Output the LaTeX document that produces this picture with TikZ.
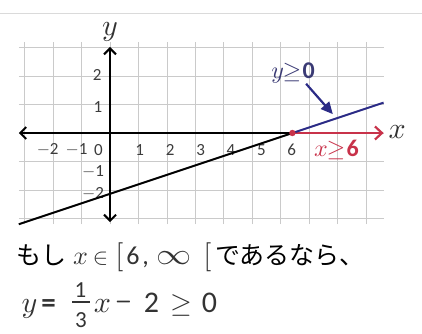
\documentclass[tikz,border=0pt]{standalone}
\usepackage{amsmath}
\usepackage{fontspec}
\usetikzlibrary{arrows.meta}
\DeclareFontShape{OML}{cmm}{m}{it}{<->cmmi10}{}
\DeclareFontShape{OMS}{cmsy}{m}{n}{<->cmsy10}{}
\DeclareFontShape{OT1}{cmr}{m}{n}{<->cmr10}{}
\newfontfamily\jpfont{Noto Sans CJK JP}
\newfontfamily\carl{Carlito}
\newcommand\fsz[1]{\fontsize{#1}{#1}\selectfont}
\definecolor{gridgray}{HTML}{CACACA}
\definecolor{sepgray}{HTML}{DADADA}
\definecolor{ticktext}{HTML}{3C3C3C}
\definecolor{mathgray}{HTML}{333333}
\definecolor{redline}{HTML}{C8324A}
\definecolor{navyline}{HTML}{2B2B86}
\definecolor{navytext}{HTML}{3A3A74}
\tikzset{
  ticklabel/.style={font=\carl\fsz{17}, text=ticktext, inner sep=0},
  axislabel/.style={font=\fsz{30}, text=mathgray, inner sep=0},
  axisline/.style={line width=2pt, black},
  barbtip/.tip={Straight Barb[length=6pt,width=12pt,line width=2pt]},
  condlabel/.style={font=\fsz{24}, inner sep=0},
  piece/.style={anchor=base, inner sep=0, text=mathgray},
  jptext/.style={anchor=base west, inner sep=0, font=\jpfont\fsz{25}, text=black},
}
\begin{document}
\begin{tikzpicture}[x=1pt,y=1pt]
\useasboundingbox (0,0) rectangle (422,333);
\draw[sepgray, line width=0.8pt] (0,320) -- (422,320);
\begin{scope}[shift={(110,200)}, x=30.4pt, y=30.4pt]
  \draw[gridgray, line width=0.8pt] (-3,-3) grid (9,3);
  % tick labels
  \node[ticklabel] (tm2) at (-2.05,-0.56) {$-$2};
  \node[ticklabel] (tm1) at (-1.1,-0.56) {$-$1};
  \node[ticklabel] (t0) at (-0.38,-0.56) {0};
  \foreach \i in {1,...,6}{\node[ticklabel] (t\i) at (\i-0.02,-0.56) {\i};}
  \node[ticklabel] (ty2) at (-0.42,1.92) {2};
  \node[ticklabel] (ty1) at (-0.4,0.86) {1};
  \node[ticklabel] (tym1) at (-0.56,-1.26) {$-$1};
  \node[ticklabel] (tym2) at (-0.56,-2.0) {$-$2};
  % coordinates
  \coordinate (xl) at (-3,0);
  \coordinate (xo) at (6,0);
  \coordinate (xr) at (9,0);
  \coordinate (yb) at (0,-2.93);
  \coordinate (yt) at (0,2.83);
  \coordinate (ls) at (-3,-3);
  \coordinate (le) at (9,1);
  % axes
  \draw[axisline, barbtip-] (xl) -- (xo);
  \draw[axisline, redline, -{Straight Barb[length=7pt,width=13pt,line width=2.2pt]}] (xo) -- (xr);
  \draw[axisline, barbtip-barbtip] (yb) -- (yt);
  % line y = x/3 - 2
  \draw[axisline] (ls) -- (xo);
  \draw[line width=2pt, navyline] (xo) -- (le);
  \fill[redline] (xo) circle (3.2pt);
  % labels
  \node[axislabel] (ylab) at (0,3.33) {$y$};
  \node[axislabel] (xlab) at (9.45,0.02) {$x$};
  \node[condlabel, text=navytext] (ycond) at (6.02,1.99) {$y\mkern-1mu{\geq}\mkern1mu$\text{\carl\bfseries 0}};
  \node[condlabel, text=redline] (xcond) at (7.45,-0.55) {$x\mkern-1mu{\geq}\mkern1mu$\text{\carl\bfseries 6}};
  \coordinate (arrs) at (6.45,1.62);
  \coordinate (arre) at (7.33,0.62);
  \draw[navyline, line width=2.2pt, -{Triangle[length=12pt,width=11pt]}] (arrs) -- (arre);
\end{scope}
% first text line: baseline at y=69
\node[jptext] (jp1) at (16,69) {もし};
\node[piece, font=\fsz{26}] (l1x) at (80.5,69) {$x$};
\node[piece, font=\fsz{23}] (l1in) at (100.5,69) {$\in$};
\node[piece, font=\fsz{29}] (l1lb) at (119.5,69) {$[$};
\node[piece, font=\carl\fsz{26}] (l1six) at (133,69) {6};
\node[piece, font=\carl\fsz{26}] (l1cm) at (145.5,69) {,};
\node[piece, font=\fsz{26}] (l1inf) at (174.5,69) {\scalebox{1.35}[1.15]{$\infty$}};
\node[piece, font=\fsz{29}] (l1rb) at (207.5,69) {$[$};
\node[jptext] (jp2) at (215,69) {であるなら、};
% second text line: baseline at y=21
\node[piece, font=\fsz{30}] (l2y) at (29.5,21) {$y$};
\node[piece, font=\carl\bfseries\fsz{29}] (l2eq) at (48.5,21) {=};
\node[piece, font=\carl\fsz{23}] (l2n) at (80.5,36) {1};
\node[piece, font=\carl\fsz{23}] (l2d) at (81,6) {3};
\coordinate (fbl) at (72,31);
\coordinate (fbr) at (90,31);
\draw[mathgray, line width=1.5pt] (fbl) -- (fbr);
\node[piece, font=\fsz{30}] (l2x) at (102.5,21) {$x$};
\node[piece, font=\fsz{30}] (l2mi) at (123.5,21) {\scalebox{0.72}[1.4]{$-$}};
\node[piece, font=\carl\fsz{30}] (l2two) at (151.5,21) {2};
\node[piece, font=\fsz{28}] (l2ge) at (181,21) {$\geq$};
\node[piece, font=\carl\fsz{30}] (l2zero) at (209.5,21) {0};
\end{tikzpicture}
\end{document}
